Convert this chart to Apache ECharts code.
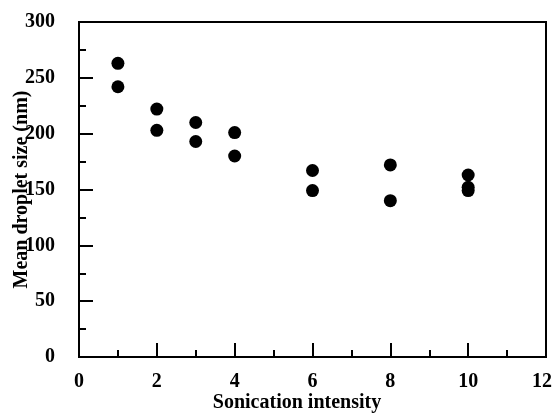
<!DOCTYPE html>
<html>
<head>
<meta charset="utf-8">
<script src="https://cdn.jsdelivr.net/npm/echarts@6/dist/echarts.min.js"></script>
<style>
  html, body { margin: 0; padding: 0; background: #fff; }
  #chart { width: 554px; height: 413px; }
</style>
</head>
<body>
<div id="chart"></div>
<script>
// sonication intensity vs mean droplet size (nm)
var intensity = [1, 1, 2, 2, 3, 3, 4, 4, 6, 6, 8, 8, 10, 10, 10];
var dropletSize = [263, 242, 222, 203, 210, 193, 201, 180, 167, 149, 172, 140, 163, 152, 149];

var points = intensity.map(function (x, i) { return [x, dropletSize[i]]; });

var font = '"Liberation Serif", "Times New Roman", serif';
var chart = echarts.init(document.getElementById("chart"));

var option = {
  animation: false,
  backgroundColor: "#fff",
  grid: {
    left: 79, right: 8, top: 22, bottom: 56,
    outerBoundsMode: "none",
    show: true, borderColor: "#000", borderWidth: 2, backgroundColor: "transparent"
  },
  xAxis: {
    type: "value", min: 0, max: 12, interval: 2,
    name: "Sonication intensity", nameLocation: "middle", nameGap: 36,
    nameMoveOverlap: false,
    nameTextStyle: { fontFamily: font, fontWeight: "bold", fontSize: 20, color: "#000", padding: [0, 31, 0, 0] },
    axisLine: { show: true, lineStyle: { color: "#000", width: 2 } },
    axisTick: { show: true, inside: true, length: 14, lineStyle: { color: "#000", width: 2 } },
    minorTick: { show: true, splitNumber: 2, length: 7, lineStyle: { color: "#000", width: 2 } },
    splitLine: { show: false },
    axisLabel: {
      margin: 15, fontFamily: font, fontWeight: "bold", fontSize: 20, color: "#000",
      formatter: function (v) { return v === 12 ? "{m|" + v + "}" : String(v); },
      rich: { m: { fontFamily: font, fontWeight: "bold", fontSize: 20, color: "#000", padding: [0, 8, 0, 0] } }
    }
  },
  yAxis: {
    type: "value", min: 0, max: 300, interval: 50,
    name: "Mean droplet size (nm)", nameLocation: "middle", nameGap: 47,
    nameMoveOverlap: false,
    nameTextStyle: { fontFamily: font, fontWeight: "bold", fontSize: 20, color: "#000" },
    axisLine: { show: true, lineStyle: { color: "#000", width: 2 } },
    axisTick: { show: true, inside: true, length: 14, lineStyle: { color: "#000", width: 2 } },
    minorTick: { show: true, splitNumber: 2, length: 7, lineStyle: { color: "#000", width: 2 } },
    splitLine: { show: false },
    axisLabel: { margin: 24, fontFamily: font, fontWeight: "bold", fontSize: 20, color: "#000" }
  },
  series: [{
    type: "scatter",
    data: points,
    symbol: "circle",
    symbolSize: 13,
    itemStyle: { color: "#000", opacity: 1 }
  }]
};

chart.setOption(option);
</script>
</body>
</html>
